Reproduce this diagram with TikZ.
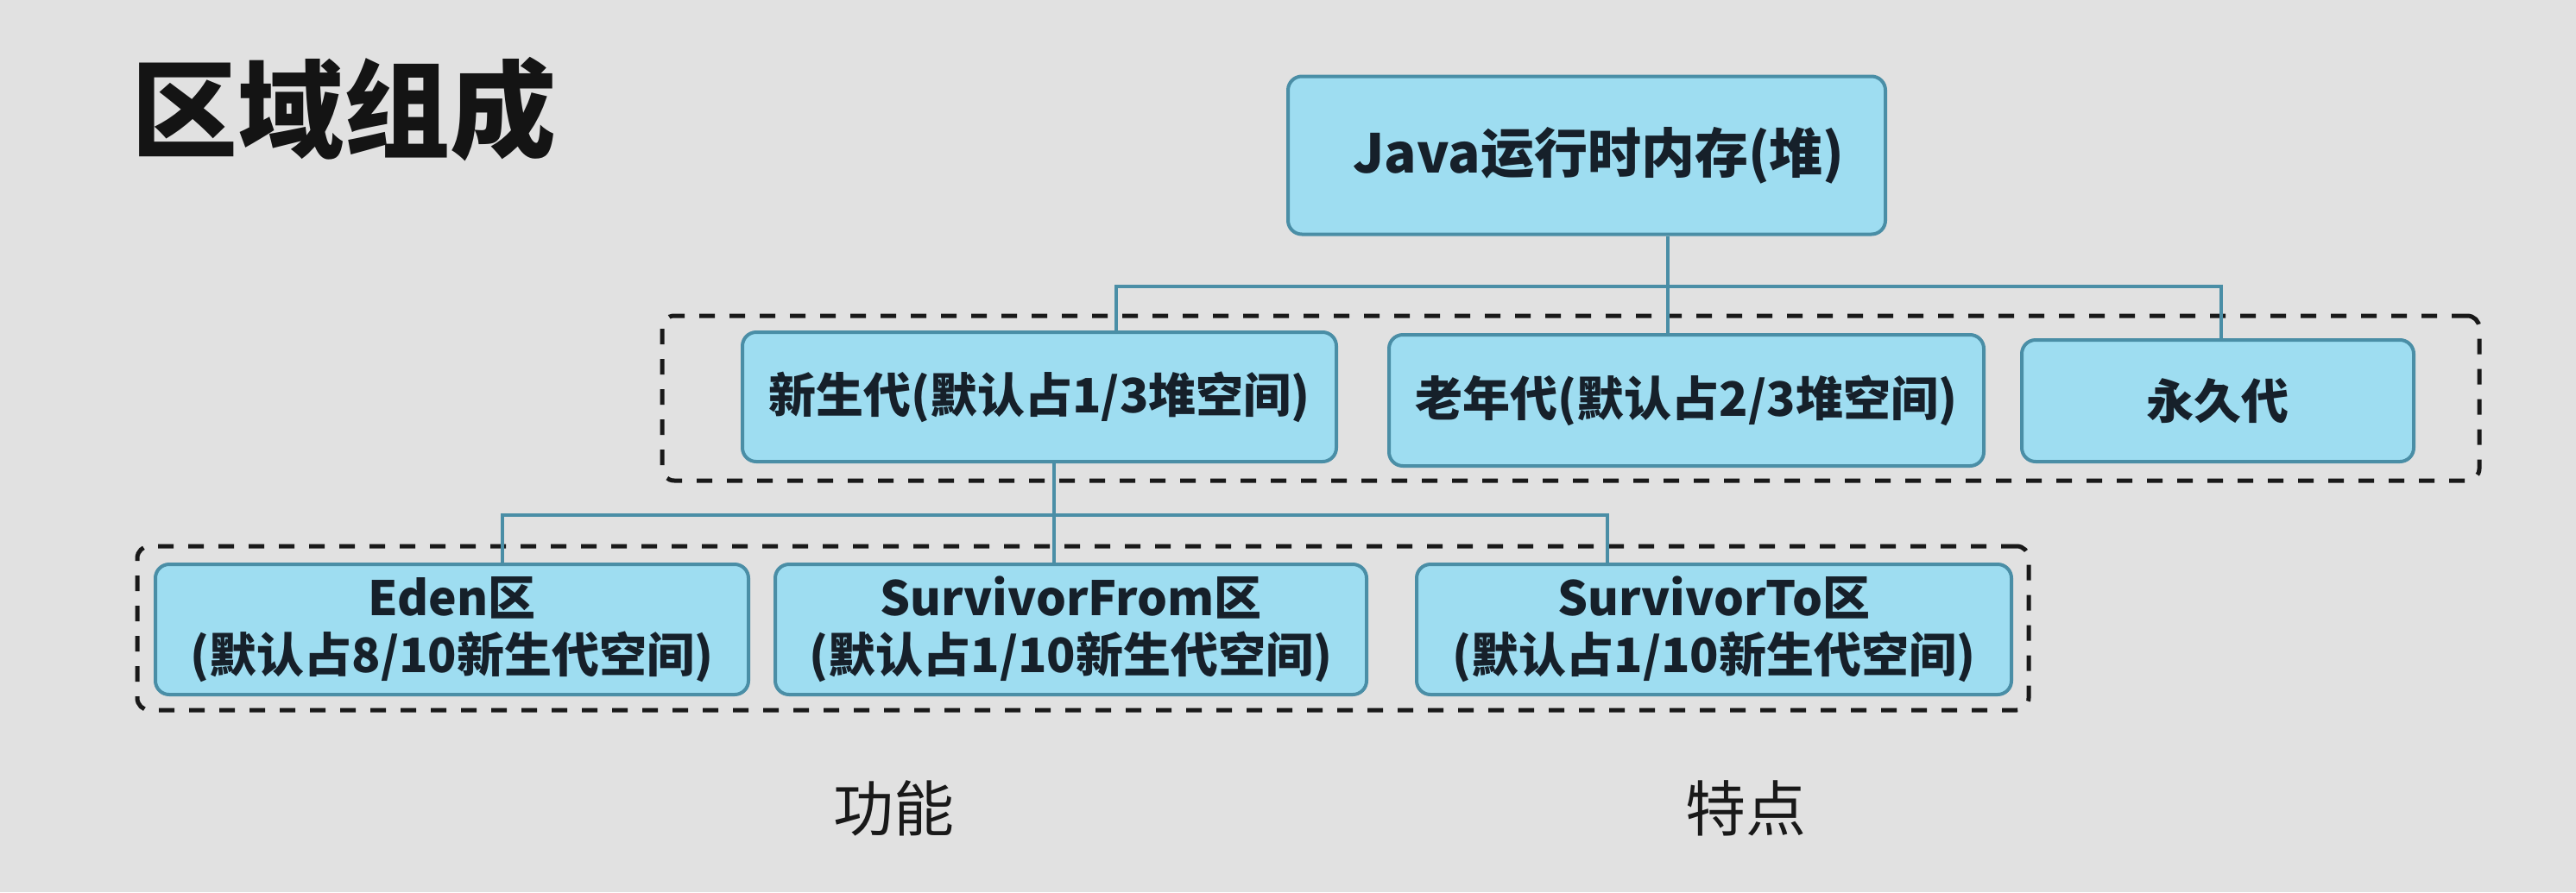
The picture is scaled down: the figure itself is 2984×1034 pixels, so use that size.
\documentclass[tikz,border=0pt]{standalone}
\usepackage{fontspec}
\setmainfont{Noto Sans CJK SC}
\definecolor{bg}{HTML}{E1E1E1}
\definecolor{boxfill}{HTML}{9EDDF1}
\definecolor{boxline}{HTML}{4A8EA6}
\definecolor{txt}{HTML}{16202A}
\tikzset{
  box/.style={draw=boxline, line width=4pt, fill=boxfill, rounded corners=16pt,
    text=txt, font=\bfseries\fontsize{55}{66}\selectfont, align=center, inner sep=0pt},
  conn/.style={draw=boxline, line width=3.5pt},
  grp/.style={draw=black!90, line width=5pt, dash pattern=on 18pt off 17pt,
    rounded corners=14pt, inner sep=0pt},
  lbl/.style={text=txt, inner sep=0pt},
}
\begin{document}
\begin{tikzpicture}[x=1pt,y=-1pt]
\fill[bg] (0,0) rectangle (2984,1034);
\useasboundingbox (0,0) rectangle (2984,1034);

% groups
\node[grp, minimum width=2105pt, minimum height=191pt] (g1) at (1819.5,461.5) {};
\node[grp, minimum width=2191pt, minimum height=190pt] (g2) at (1254.5,728) {};

% title and labels
\node[lbl, text=black!92, anchor=west, font=\bfseries\fontsize{123}{130}\selectfont] (title) at (152,127) {区域组成};
\node[lbl, text=black!90, font=\fontsize{70}{80}\selectfont] (func) at (1035,937) {功能};
\node[lbl, text=black!90, font=\fontsize{70}{80}\selectfont] (feat) at (2022,937) {特点};

% boxes
\node[box, minimum width=692pt, minimum height=183pt, font=\bfseries\fontsize{62}{70}\selectfont] (java) at (1838,180) {\hspace*{28pt}Java运行时内存(堆)};
\node[box, minimum width=688pt, minimum height=150pt] (young) at (1204,460) {新生代(默认占1/3堆空间)};
\node[box, minimum width=689pt, minimum height=152pt] (old) at (1953.5,464) {老年代(默认占2/3堆空间)};
\node[box, minimum width=454pt, minimum height=141pt] (perm) at (2569,464.5) {永久代};
\node[box, minimum width=687pt, minimum height=151pt] (eden) at (523.5,729.5) {Eden区\\(默认占8/10新生代空间)};
\node[box, minimum width=685pt, minimum height=151pt] (sf) at (1240.5,729.5) {SurvivorFrom区\\(默认占1/10新生代空间)};
\node[box, minimum width=689pt, minimum height=151pt] (st) at (1985.5,729.5) {SurvivorTo区\\(默认占1/10新生代空间)};

% connector positions
\coordinate (c1) at (1932,332);
\coordinate (cy) at (1293,332);
\coordinate (cp) at (2573,332);
\coordinate (c2) at (1221,597);
\coordinate (ce) at (582,597);
\coordinate (ct) at (1862,597);

% connectors
\draw[conn] (java.south -| c1) -- (old.north -| c1);
\draw[conn] (young.north -| cy) -- (cy) -- (cp) -- (perm.north -| cp);
\draw[conn] (young.south -| c2) -- (sf.north -| c2);
\draw[conn] (eden.north -| ce) -- (ce) -- (ct) -- (st.north -| ct);
\end{tikzpicture}
\end{document}
